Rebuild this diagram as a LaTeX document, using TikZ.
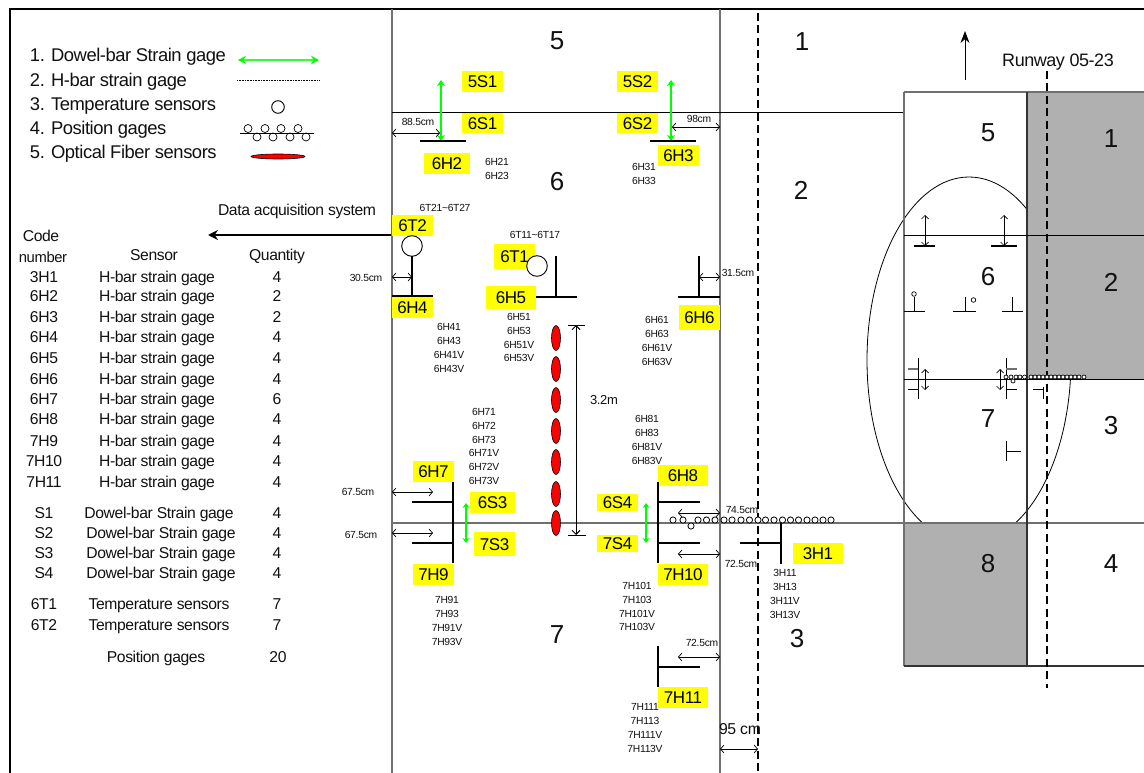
\documentclass[tikz,border=0pt]{standalone}
\usepackage{fontspec}
\setmainfont{Liberation Sans}
\newfontfamily\tight[LetterSpace=-2.5]{Liberation Sans}
\usetikzlibrary{arrows.meta}
\newcommand\fsz[1]{\fontsize{#1}{#1}\selectfont}
\definecolor{gline}{HTML}{707070}
\definecolor{pave}{HTML}{B0B0B0}
\definecolor{ink}{HTML}{111111}
\definecolor{gg}{HTML}{00FF00}
\definecolor{lab}{HTML}{FFFF00}
\tikzset{
  tx/.style={inner sep=0pt,outer sep=0pt,text=ink,anchor=center},
  sm/.style={tx,font=\tight\fsz{10.3},text height=7.4pt,text depth=0pt},
  tb/.style={tx,font=\tight\fsz{15.7},text height=11.3pt,text depth=0pt},
  lg/.style={tx,font=\tight\fsz{18.4},anchor=west,text height=13.2pt,text depth=0pt},
  big/.style={tx,font=\fsz{26},text height=18.7pt,text depth=0pt},
  ylab/.style={tx,text=black,font=\tight\fsz{17},text height=12.2pt,text depth=0pt},
  gl/.style={draw=gline,line width=1.2pt},
  bl/.style={draw=black,line width=.9pt},
  bar/.style={draw=black,line width=1.7pt},
  hb/.style={draw=black,line width=1.4pt},
  thin1/.style={draw=black,line width=.9pt},
  dimn/.style={draw=black,line width=.7pt,{Straight Barb[length=3.5pt,width=8pt]}-{Straight Barb[length=3.5pt,width=8pt]}},
  miniar/.style={draw=black,line width=.7pt,{Straight Barb[length=3.5pt,width=7pt]}-{Straight Barb[length=3.5pt,width=7pt]}},
  grn/.style={draw=gg,line width=1.1pt,{Stealth[length=6pt,width=8pt]}-{Stealth[length=6pt,width=8pt]}},
  grns/.style={draw=gg,line width=1.1pt,{Stealth[length=5pt,width=7pt]}-{Stealth[length=5pt,width=7pt]}},
  rwy/.style={draw=black,line width=1.8pt,dash pattern=on 8pt off 4.5pt},
  oval/.style={draw=black,line width=.6pt,fill=red},
  pg/.style={draw=black,line width=.8pt,fill=white},
}
\newcommand\yl[6]{\fill[lab] (#2,#3) rectangle (#4,#5);\node[ylab] (y#1) at ({(#2+#4)/2},{(#3+#5)/2}) {#6};}
\begin{document}
\begin{tikzpicture}[x=1pt,y=-1pt]
\useasboundingbox (0,0) rectangle (1144,773);
\fill[white] (0,0) rectangle (1144,773);
% frame
\draw[draw=black,line width=2pt] (10,773) -- (10,9) -- (1144,9);

% legend
\foreach \t/\y [count=\i] in {1. Dowel-bar Strain gage/55,2. H-bar strain gage/80,3. Temperature sensors/104,4. Position gages/128,5. Optical Fiber sensors/152}
  \node[lg] (leg\i) at (30,\y) {\t};
\draw[draw=green!80!white,line width=1.4pt,{Stealth[length=8pt,width=8.5pt,color=gg]}-{Stealth[length=8pt,width=8.5pt,color=gg]}] (238,60) -- (319,60);
\draw[black,line width=.6pt,densely dotted] (237,80.5) -- (320,80.5);
\draw[thin1] (278,107) circle (6.3);
\draw[thin1] (240,133) -- (314,133);
\foreach \x in {248,265,281,298} \draw[line width=.7pt] (\x,128.5) circle (4);
\foreach \x in {257,273,290,306} \draw[line width=.7pt] (\x,137) circle (4);
\draw[oval] (278,156.5) ellipse [x radius=27,y radius=2.5];

% data acquisition
\node[tb] (daq) at (297,210) {Data acquisition system};
\draw[black,line width=1.6pt,-{Stealth[length=10pt,width=10pt]}] (392,235) -- (208,235);

% table
\node[tb] (hcode) at (41,236) {Code};
\node[tb,font=\tight\fsz{14.8}] (hnum) at (43,257) {number};
\node[tb] (hsens) at (154,255) {Sensor};
\node[tb] (hqty) at (277,255) {Quantity};
\foreach \c/\y/\q in {3H1/277/4,6H2/296/2,6H3/317/2,6H4/337/4,6H5/358/4,6H6/379/4,6H7/399/6,6H8/419/4,7H9/441/4,7H10/461/4,7H11/482/4}{
  \node[tb] (c\c) at (44,\y) {\c};
  \node[tb] (s\c) at (157,\y) {H-bar strain gage};
  \node[tb] (q\c) at (277,\y) {\q};
}
\foreach \c/\y/\xx in {S1/513/159,S2/533/161,S3/553/161,S4/573/161}{
  \node[tb] (c\c) at (44,\y) {\c};
  \node[tb] (s\c) at (\xx,\y) {Dowel-bar Strain gage};
  \node[tb] (q\c) at (277,\y) {4};
}
\foreach \c/\y in {6T1/604,6T2/625}{
  \node[tb] (c\c) at (44,\y) {\c};
  \node[tb] (s\c) at (159,\y) {Temperature sensors};
  \node[tb] (q\c) at (277,\y) {7};
}
\node[tb] (spos) at (156,657) {Position gages};
\node[tb] (qpos) at (278,657) {20};

% ellipse of the key plan
\begin{scope}
\clip (850,170) rectangle (1100,523);
\draw[black,line width=.8pt] (969,360) ellipse [x radius=102,y radius=183];
\end{scope}
% key plan paving
\fill[pave] (1027,92) rectangle (1144,379);
\fill[pave] (904,523) rectangle (1027,666);

% main lines
\draw[gl] (392,9) -- (392,773);
\draw[gl] (720,9) -- (720,773);
\draw[rwy] (758,13) -- (758,773);
\draw[bl] (392,112) -- (904,112);
\draw[gl] (392,523) -- (1144,523);
% key plan lines
\draw[gl] (904,92) -- (1144,92);
\draw[gl] (904,92) -- (904,666);
\draw[draw=black!80,line width=1.1pt] (1027,92) -- (1027,666);
\draw[bl] (904,235) -- (1144,235);
\draw[bl] (904,379) -- (1144,379);
\draw[draw=black!80,line width=1.1pt] (904,666) -- (1144,666);
\draw[rwy] (1047,71) -- (1047,688);
\draw[black,line width=.9pt,-{Stealth[length=12pt,width=9pt]}] (965,80) -- (965,31);
\node[tx,font=\tight\fsz{18},text height=13pt,text depth=0pt] (rwy) at (1058,60) {Runway 05-23};

% numbers
\foreach \t/\x/\y [count=\i] in {5/557/40,1/802/41,6/557/181,2/801/190,7/557/634,3/797/638,5/988/132,1/1111/138,6/988/276,2/1111/282,7/988/418,3/1111/425,8/988/563,4/1111/563}
  \node[big] (n\i) at (\x,\y) {\t};

% yellow labels
\yl{5S1}{462}{71}{503}{92}{5S1}
\yl{6S1}{462}{113}{503}{133}{6S1}
\yl{5S2}{617}{71}{658}{92}{5S2}
\yl{6S2}{617}{113}{658}{133}{6S2}
\yl{6H2}{424}{153}{470}{174}{6H2}
\yl{6H3}{658}{145}{699}{166}{6H3}
\yl{6T2}{392}{215}{433}{236}{6T2}
\yl{6T1}{494}{244}{535}{269}{6T1}
\yl{6H5}{486}{286}{536}{309}{6H5}
\yl{6H4}{392}{297}{433}{318}{6H4}
\yl{6H6}{679}{305}{720}{330}{6H6}
\yl{6H7}{413}{461}{454}{482}{6H7}
\yl{6S3}{470}{492}{515}{513}{6S3}
\yl{7S3}{474}{532}{515}{556}{7S3}
\yl{7H9}{413}{564}{454}{585}{7H9}
\yl{6S4}{597}{494}{638}{511}{6S4}
\yl{7S4}{597}{535}{638}{552}{7S4}
\yl{6H8}{658}{465}{708}{486}{6H8}
\yl{7H10}{658}{564}{708}{585}{7H10}
\yl{3H1}{793}{543}{843}{564}{3H1}
\yl{7H11}{658}{687}{708}{708}{7H11}

% dowel gages
\draw[grn] (441,80) -- (441,141);
\draw[grn] (671,80) -- (671,141);
\draw[bar] (420,141) -- (466,141);
\draw[bar] (650,141) -- (696,141);
\draw[grns] (466,503) -- (466,543);
\draw[grns] (646,503) -- (646,543);

% dimensions
\draw[dimn] (392,133) -- (440,133);
\draw[dimn] (672,127) -- (720,127);
\draw[dimn] (392,277) -- (412,277);
\draw[dimn] (699,277) -- (720,277);
\draw[dimn] (392,492) -- (433,492);
\draw[dimn] (392,533) -- (433,533);
\draw[dimn] (678,513) -- (720,513);
\draw[dimn] (678,554) -- (720,554);
\draw[dimn] (678,657) -- (720,657);
\draw[dimn] (720,749) -- (758,749);
\foreach \t/\x/\y [count=\i] in {88.5cm/418/122,98cm/699/119,30.5cm/366/278,31.5cm/738/273,67.5cm/358/492,67.5cm/361/535,74.5cm/742/510,72.5cm/741/564,72.5cm/702/643}
  \node[sm] (d\i) at (\x,\y) {\t};
\node[tx,font=\tight\fsz{15.8},text height=11.3pt,text depth=0pt] (d95) at (740,729) {95 cm};
\node[tx,font=\tight\fsz{13},text height=9.4pt,text depth=0pt] (d32) at (604,400) {3.2m};

% temperature sensors and H-bars
\draw[thin1,fill=white] (412,246) circle (10.3);
\draw[hb] (412,256.3) -- (412,296);
\draw[hb] (392,296) -- (433,296);
\draw[thin1,fill=white] (537,266) circle (10.3);
\draw[hb] (556,256) -- (556,297);
\draw[hb] (536,297) -- (577,297);
\draw[hb] (699,256) -- (699,297);
\draw[hb] (678,297) -- (720,297);
\draw[hb] (453,482) -- (453,563);
\draw[hb] (412,502) -- (453,502);
\draw[hb] (412,543) -- (453,543);
\draw[hb] (658,482) -- (658,563);
\draw[hb] (658,502) -- (700,502);
\draw[hb] (658,543) -- (700,543);
\draw[hb] (781,523) -- (781,564);
\draw[hb] (740,543) -- (781,543);
\draw[hb] (658,646) -- (658,687);
\draw[hb] (658,667) -- (700,667);

% optical fibres
\foreach \y in {338,369,400,431,462,494,523}
  \draw[oval] (556,\y) ellipse [x radius=4.5,y radius=12.5];
\draw[draw=black,line width=.9pt,{Straight Barb[length=4pt,width=8pt]}-{Straight Barb[length=4pt,width=8pt]}] (576,325) -- (576,535);
\draw[thin1] (568,325) -- (585,325);
\draw[thin1] (568,535) -- (586,535);

% position gages
\foreach \x in {673,683,698,706.5,715,724,732,741,749.5,758,765.5,774,782.5,790.5,798.5,807,815,823,831}
  \draw[pg] (\x,520) circle (3.1);
\draw[pg] (691,526) circle (3.1);

% small code lists
\foreach \t/\y in {6H21/162,6H23/176} \node[sm] (k\t) at (497,\y) {\t};
\foreach \t/\y in {6H31/167,6H33/181} \node[sm] (k\t) at (644,\y) {\t};
\node[sm] (kT2) at (445,208) {6T21\textasciitilde 6T27};
\node[sm] (kT1) at (535,235) {6T11\textasciitilde 6T17};
\foreach \t/\y in {6H41/327,6H43/341,6H41V/355,6H43V/369} \node[sm] (k\t) at (449,\y) {\t};
\foreach \t/\y in {6H51/317,6H53/331,6H51V/345,6H53V/358} \node[sm] (k\t) at (519,\y) {\t};
\foreach \t/\y in {6H61/320,6H63/334,6H61V/348,6H63V/362} \node[sm] (k\t) at (657,\y) {\t};
\foreach \t/\y in {6H71/412,6H72/426,6H73/440,6H71V/453,6H72V/467,6H73V/481} \node[sm] (k\t) at (484,\y) {\t};
\foreach \t/\y in {6H81/419,6H83/433,6H81V/447,6H83V/461} \node[sm] (k\t) at (647,\y) {\t};
\foreach \t/\y in {7H91/600,7H93/614,7H91V/628,7H93V/642} \node[sm] (k\t) at (447,\y) {\t};
\foreach \t/\y in {7H101/586,7H103/600,7H101V/614,7H103V/627} \node[sm] (k\t) at (637,\y) {\t};
\foreach \t/\y in {7H111/707,7H113/721,7H111V/735,7H113V/749} \node[sm] (k\t) at (645,\y) {\t};
\foreach \t/\y in {3H11/573,3H13/587,3H11V/601,3H13V/615} \node[sm] (k\t) at (785,\y) {\t};

% key-plan miniature sensors
\draw[miniar] (925,215) -- (925,246);
\draw[miniar] (1004,215) -- (1004,246);
\draw[bar] (914,246) -- (935,246);
\draw[bar] (991,246) -- (1017,246);
\draw[thin1] (914,297) -- (914,311);
\draw[thin1] (904,311) -- (925,311);
\draw[line width=.7pt] (914,294) circle (2.3);
\draw[thin1] (965,297) -- (965,311);
\draw[thin1] (953,311) -- (976,311);
\draw[line width=.7pt] (973.5,300) circle (2.3);
\draw[thin1] (1012,297) -- (1012,311);
\draw[thin1] (1002,311) -- (1023,311);
\draw[thin1] (918,358) -- (918,399);
\draw[draw=gline,line width=1.2pt] (908,369) -- (918,369);
\draw[thin1] (908,389) -- (918,389);
\draw[miniar] (925,369) -- (925,390);
\draw[thin1] (1006,358) -- (1006,399);
\draw[draw=gline,line width=1.2pt] (1006,369) -- (1017,369);
\draw[thin1] (1006,389) -- (1017,389);
\draw[miniar] (1000,369) -- (1000,390);
\draw[thin1] (1043,387) -- (1043,399);
\draw[thin1] (1033,389) -- (1043,389);
\draw[thin1] (1006,441) -- (1006,461);
\draw[thin1] (1006,451) -- (1021,451);
\foreach \x in {1006,1011,1016,1020,1024.5,1031,1035,1039,1043,1047,1051,1055,1059,1063,1067,1071,1075,1079,1084}
  \draw[pg,line width=.7pt] (\x,377) circle (2);
\draw[pg,line width=.7pt] (1013,381) circle (2);
\end{tikzpicture}
\end{document}
